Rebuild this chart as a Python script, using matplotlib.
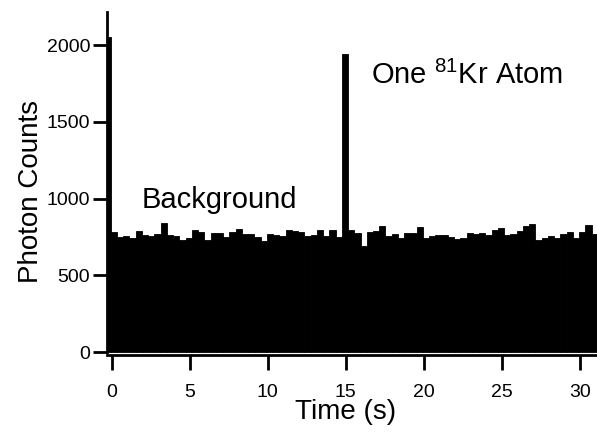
import numpy as np
import matplotlib
matplotlib.use("Agg")
import matplotlib.pyplot as plt

plt.rcParams['font.family'] = ['Liberation Sans', 'DejaVu Sans']
plt.rcParams['mathtext.fontset'] = 'custom'
plt.rcParams['mathtext.rm'] = 'Liberation Sans'

# photon counts per 0.4 s bin, first bin edge at -0.45 s
counts = [2050, 785, 750, 755, 740, 787, 764, 755, 770, 842,
          764, 759, 727, 742, 798, 785, 733, 777, 777, 748,
          785, 803, 770, 770, 748, 725, 770, 760, 755, 798,
          790, 785, 755, 764, 792, 759, 792, 748, 1940, 792,
          774, 694, 780, 790, 824, 759, 770, 744, 777, 777,
          813, 745, 755, 764, 764, 750, 735, 745, 774, 770,
          774, 765, 792, 809, 760, 770, 787, 818, 835, 730,
          744, 759, 744, 766, 780, 740, 780, 831, 770]
bin_w = 0.4
t0 = -0.45
edges = t0 + bin_w*np.arange(len(counts))

xticks = [0, 5, 10, 15, 20, 25, 30]
yticks = [0, 500, 1000, 1500, 2000]

fig = plt.figure(figsize=(5.97, 4.32), dpi=100)
ax = fig.add_axes([0.179, 0.178, 0.821, 0.794])

ax.bar(edges, counts, width=bin_w, align='edge', color='black',
       edgecolor='black', linewidth=0.6)

ax.set_xlim(-0.3, 31.1)
ax.set_ylim(-20, 2215)
ax.set_xticks(xticks)
ax.set_yticks(yticks)

for s in ['top', 'right']:
    ax.spines[s].set_visible(False)
for s in ['left', 'bottom']:
    ax.spines[s].set_linewidth(2)
ax.spines['left'].set_bounds(0, 2215)

ax.tick_params(axis='x', length=11, width=2, labelsize=14, pad=10)
ax.tick_params(axis='y', length=10, width=2, labelsize=14, pad=2)

ax.set_xlabel('Time (s)', fontsize=20)
ax.xaxis.label.set_va('center')
ax.xaxis.set_label_coords(0.486, -0.166)
ax.set_ylabel('Photon Counts', fontsize=20)
ax.yaxis.label.set_va('center')
ax.yaxis.set_label_coords(-0.155, 0.478)

ax.text(1.95, 990, 'Background', fontsize=21, va='center', ha='left')
ax.text(16.6, 1800, 'One $^{81}$Kr Atom', fontsize=21, va='center', ha='left')

fig.savefig('out.png', dpi=100)
